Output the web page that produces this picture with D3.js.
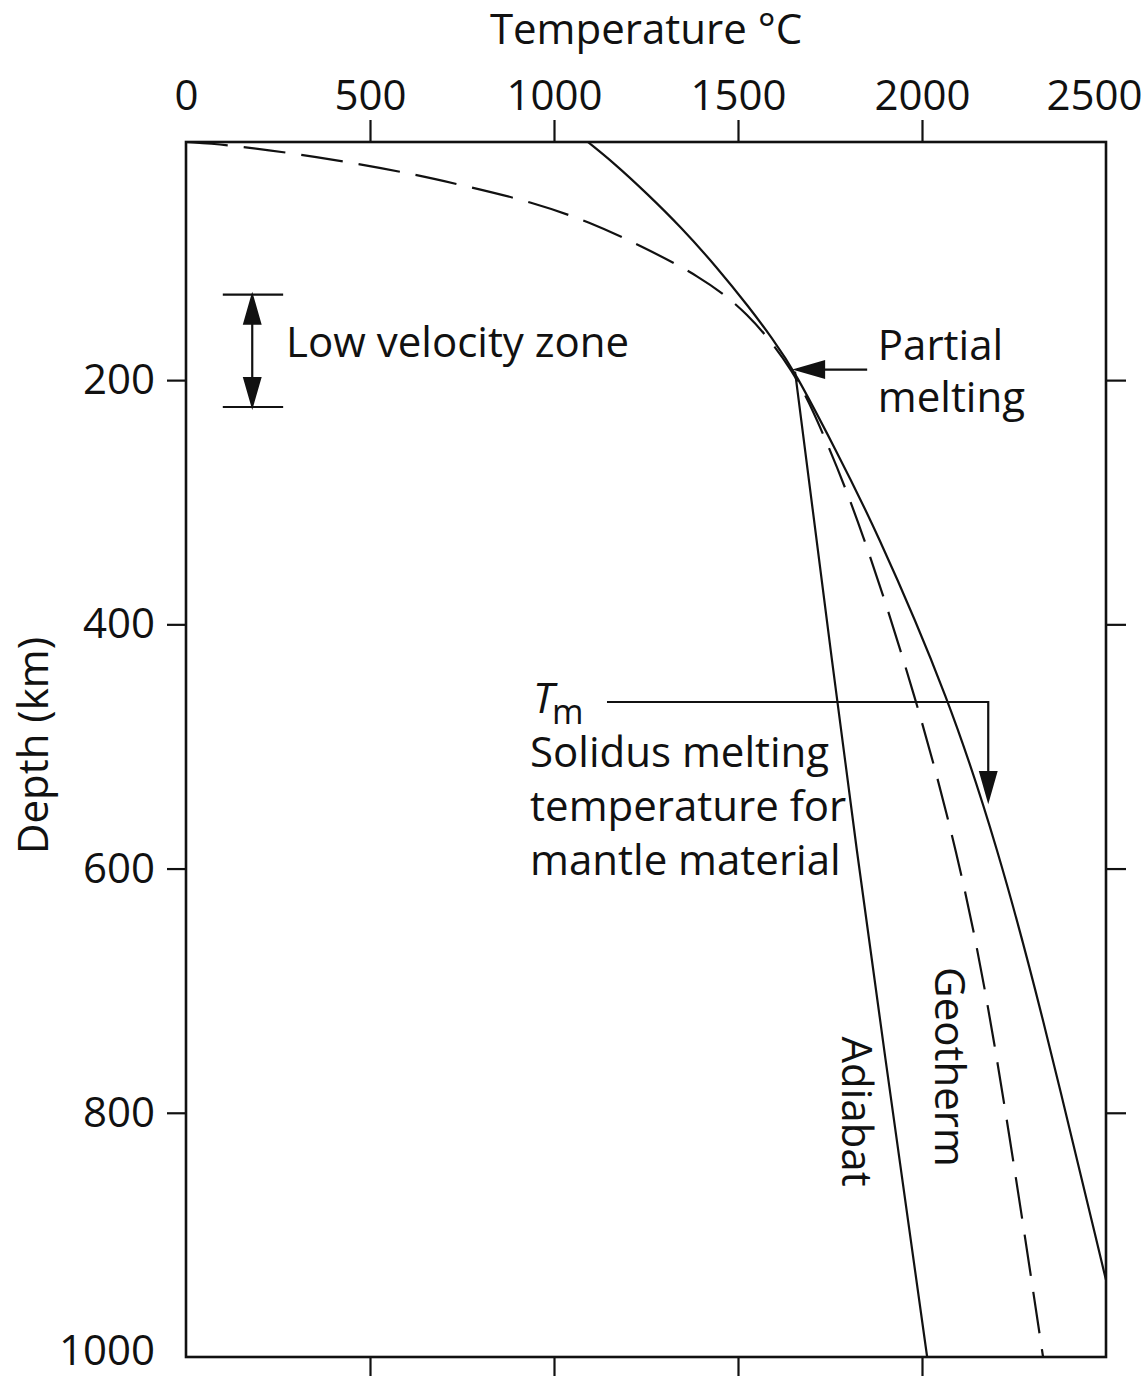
<!DOCTYPE html>
<html>
<head>
<meta charset="utf-8">
<script src="https://cdn.jsdelivr.net/npm/d3@7/dist/d3.min.js"></script>
<style>
	html, body { margin: 0; padding: 0; background: #fff; }
	svg { display: block; }
	text { font-family: 'Open Sans', 'Noto Sans', sans-serif; fill: #111; }
</style>
</head>
<body>
<div id="chart"></div>
<script>
'use strict';

// Axis ticks
const temp_ticks = [0, 500, 1000, 1500, 2000, 2500];
const depth_ticks = [200, 400, 600, 800, 1000];

// Curves, [temperature °C, depth km]
const solidus = [
	[1092, 5], [1162, 22], [1252, 47], [1346, 75], [1441, 107], [1532, 141],
	[1591, 165], [1655, 193], [1765, 257], [1867, 317], [2076, 462],
	[2207, 585], [2318, 708], [2500, 937],
];
const geotherm = [
	[0, 5], [120, 7.5], [285, 14], [451, 22], [614, 31], [774, 42], [938, 54],
	[1098, 70.5], [1242, 91], [1391, 114], [1524, 143], [1655, 193],
	[1728, 241], [1832, 317], [1986, 462], [2095, 585], [2188, 718], [2329, 1000],
];
const adiabat = [[1655, 193], [1823, 585], [2014, 1000]];

const partial_melting = [1655, 193];
const lvz_depth = [130, 222];

const W = 1147;
const H = 1376;

let svg = d3.select('#chart')
	.append('svg')
		.attr('width', W)
		.attr('height', H)
	;

// frame top sits just below the surface
let x = d3.scaleLinear().domain([0, 2500]).range([186, 1106]);
let y = d3.scaleLinear().domain([5, 1000]).range([142, 1357]);

function arrow_head(g, tx, ty, dir) {
	let L = 28, w = 8;
	let pts;
	if (dir === 'up') {
		pts = [[tx, ty], [tx - w, ty + L], [tx + w, ty + L]];
	}
	else if (dir === 'down') {
		pts = [[tx, ty], [tx - w, ty - L], [tx + w, ty - L]];
	}
	else {
		pts = [[tx, ty], [tx + L, ty - w], [tx + L, ty + w]];
	}
	g.append('polygon')
		.attr('points', pts.map(p => p.join(',')).join(' '))
		.attr('fill', '#111')
		;
}

function style_axis(g, size) {
	g.select('.domain').remove();
	g.selectAll('line').attr('stroke', '#111').attr('stroke-width', 2.2);
	g.selectAll('text')
		.attr('fill', '#111')
		.style('font-size', size + 'px')
		.style('font-family', "'Open Sans', sans-serif")
		;
}

// axes
let top_ax = svg.append('g')
	.attr('transform', 'translate(0,' + y.range()[0] + ')')
	.call(d3.axisTop(x).tickValues(temp_ticks).tickSize(22).tickPadding(10).tickFormat(d3.format('d')))
	;
style_axis(top_ax, 42);
top_ax.selectAll('.tick').filter(d => d === 0 || d === 2500).select('line').remove();
top_ax.selectAll('.tick').filter(d => d === 2500).select('text').attr('text-anchor', 'end').attr('x', 36);

let bot_ax = svg.append('g')
	.attr('transform', 'translate(0,' + y.range()[1] + ')')
	.call(d3.axisBottom(x).tickValues(temp_ticks.slice(1, -1)).tickSize(20).tickFormat(''))
	;
style_axis(bot_ax, 42);

let left_ax = svg.append('g')
	.attr('transform', 'translate(' + x.range()[0] + ',0)')
	.call(d3.axisLeft(y).tickValues(depth_ticks).tickSize(19).tickPadding(12).tickFormat(d3.format('d')))
	;
style_axis(left_ax, 42);
left_ax.selectAll('.tick').filter(d => d === 1000).select('line').remove();
left_ax.selectAll('.tick').filter(d => d === 1000).select('text').attr('dy', '0.18em');

let right_ax = svg.append('g')
	.attr('transform', 'translate(' + x.range()[1] + ',0)')
	.call(d3.axisRight(y).tickValues(depth_ticks.slice(0, -1)).tickSize(20).tickFormat(''))
	;
style_axis(right_ax, 42);

// frame
svg.append('rect')
	.attr('x', x.range()[0])
	.attr('y', y.range()[0])
	.attr('width', x.range()[1] - x.range()[0])
	.attr('height', y.range()[1] - y.range()[0])
	.attr('fill', 'none')
	.attr('stroke', '#111')
	.attr('stroke-width', 2.6)
	;

// axis titles
svg.append('text')
	.attr('x', (x.range()[0] + x.range()[1]) / 2)
	.attr('y', 44)
	.attr('text-anchor', 'middle')
	.style('font-size', '42px')
	.text('Temperature °C')
	;
svg.append('text')
	.attr('transform', 'translate(48,' + ((y.range()[0] + y.range()[1]) / 2 - 4) + ') rotate(-90)')
	.attr('text-anchor', 'middle')
	.style('font-size', '42px')
	.text('Depth (km)')
	;

// curves
let line = d3.line()
	.x(d => x(d[0]))
	.y(d => y(d[1]))
	.curve(d3.curveBasis)
	;
let straight = d3.line()
	.x(d => x(d[0]))
	.y(d => y(d[1]))
	.curve(d3.curveCatmullRom.alpha(0.5))
	;
let curves = svg.append('g').attr('fill', 'none').attr('stroke', '#111').attr('stroke-width', 2.2);
curves.append('path').attr('d', line(geotherm)).attr('stroke-dasharray', '42,16');
curves.append('path').attr('d', line(solidus));
curves.append('path').attr('d', straight(adiabat));

// low velocity zone bracket
let ann = svg.append('g').attr('stroke', '#111').attr('stroke-width', 2.2);
let lx0 = x(100), lx1 = x(264), lxm = x(180);
ann.append('line').attr('x1', lx0).attr('x2', lx1).attr('y1', y(lvz_depth[0])).attr('y2', y(lvz_depth[0]));
ann.append('line').attr('x1', lx0).attr('x2', lx1).attr('y1', y(lvz_depth[1])).attr('y2', y(lvz_depth[1]));
ann.append('line').attr('x1', lxm).attr('x2', lxm).attr('y1', y(lvz_depth[0]) + 10).attr('y2', y(lvz_depth[1]) - 10);
arrow_head(ann, lxm, y(lvz_depth[0]) + 1, 'up');
arrow_head(ann, lxm, y(lvz_depth[1]) - 1, 'down');

svg.append('text')
	.attr('x', x(272))
	.attr('y', y(181))
	.style('font-size', '42px')
	.text('Low velocity zone')
	;

// partial melting arrow
let pmx = x(partial_melting[0]), pmy = y(partial_melting[1]) - 2;
ann.append('line').attr('x1', pmx + 20).attr('x2', x(1851)).attr('y1', pmy).attr('y2', pmy);
arrow_head(ann, pmx + 1, pmy, 'left');

let pm = svg.append('text')
	.attr('x', x(1880))
	.attr('y', y(183.5))
	.style('font-size', '42px')
	;
pm.append('tspan').text('Partial');
pm.append('tspan').attr('x', x(1880)).attr('dy', 52).text('melting');

// Tm leader
let tm_y = y(463.6);
ann.append('path')
	.attr('fill', 'none')
	.attr('d', 'M' + x(1144) + ',' + tm_y + 'H' + x(2180) + 'V' + (y(544) - 20))
	;
arrow_head(ann, x(2180), y(544), 'down');

let tm = svg.append('text')
	.attr('x', x(943))
	.attr('y', y(472.6))
	.style('font-size', '42px')
	;
tm.append('tspan').style('font-style', 'italic').text('T');
tm.append('tspan').attr('dy', 11).attr('dx', -2).style('font-size', '34px').text('m');

let sol = svg.append('text')
	.attr('x', x(935))
	.attr('y', y(517))
	.style('font-size', '42px')
	;
['Solidus melting', 'temperature for', 'mantle material'].forEach(function(t, i) {
	sol.append('tspan')
		.attr('x', x(935))
		.attr('dy', i ? 54 : 0)
		.text(t)
		;
});

// curve labels
svg.append('text')
	.attr('transform', 'translate(' + x(2035) + ',' + y(762.5) + ') rotate(90)')
	.attr('text-anchor', 'middle')
	.style('font-size', '42px')
	.text('Geotherm')
	;
svg.append('text')
	.attr('transform', 'translate(' + x(1783) + ',' + y(799) + ') rotate(90)')
	.attr('text-anchor', 'middle')
	.style('font-size', '42px')
	.text('Adiabat')
	;
</script>
</body>
</html>
